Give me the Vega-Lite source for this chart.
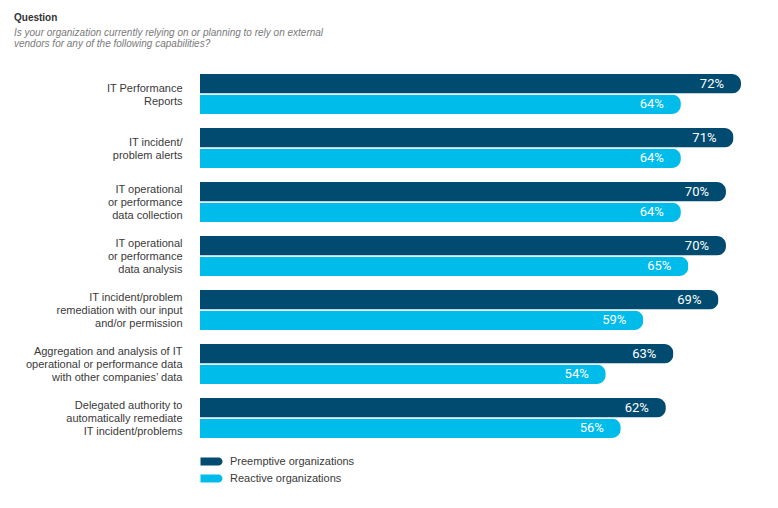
{
  "$schema": "https://vega.github.io/schema/vega-lite/v6.json",
  "autosize": "none",
  "width": 541,
  "height": 378,
  "padding": {"left": 200, "top": 67, "right": 37, "bottom": 63},
  "background": "white",
  "title": {
    "text": "Question",
    "subtitle": ["Is your organization currently relying on or planning to rely on external", "vendors for any of the following capabilities?"],
    "anchor": "start",
    "frame": "group",
    "dx": -186,
    "offset": 18,
    "font": "Liberation Sans",
    "fontSize": 10,
    "fontWeight": "bold",
    "color": "#333333",
    "subtitleFont": "Liberation Sans",
    "subtitleFontSize": 10,
    "subtitleFontStyle": "italic",
    "subtitleColor": "#7a7a7a",
    "subtitleLineHeight": 11,
    "subtitlePadding": 5
  },
  "data": {
    "values": [
      {"capability": "IT Performance|Reports", "series": "Preemptive organizations", "value": 0.72},
      {"capability": "IT Performance|Reports", "series": "Reactive organizations", "value": 0.64},
      {"capability": "IT incident/|problem alerts", "series": "Preemptive organizations", "value": 0.71},
      {"capability": "IT incident/|problem alerts", "series": "Reactive organizations", "value": 0.64},
      {"capability": "IT operational|or performance|data collection", "series": "Preemptive organizations", "value": 0.70},
      {"capability": "IT operational|or performance|data collection", "series": "Reactive organizations", "value": 0.64},
      {"capability": "IT operational|or performance|data analysis", "series": "Preemptive organizations", "value": 0.70},
      {"capability": "IT operational|or performance|data analysis", "series": "Reactive organizations", "value": 0.65},
      {"capability": "IT incident/problem|remediation with our input|and/or permission", "series": "Preemptive organizations", "value": 0.69},
      {"capability": "IT incident/problem|remediation with our input|and/or permission", "series": "Reactive organizations", "value": 0.59},
      {"capability": "Aggregation and analysis of IT|operational or performance data|with other companies’ data", "series": "Preemptive organizations", "value": 0.63},
      {"capability": "Aggregation and analysis of IT|operational or performance data|with other companies’ data", "series": "Reactive organizations", "value": 0.54},
      {"capability": "Delegated authority to|automatically remediate|IT incident/problems", "series": "Preemptive organizations", "value": 0.62},
      {"capability": "Delegated authority to|automatically remediate|IT incident/problems", "series": "Reactive organizations", "value": 0.56}
    ]
  },
  "encoding": {
    "y": {
      "field": "capability",
      "type": "nominal",
      "sort": null,
      "scale": {"paddingInner": 0.26, "paddingOuter": 0.13},
      "axis": {
        "title": null,
        "domain": false,
        "ticks": false,
        "labelPadding": 18,
        "labelExpr": "split(datum.label, '|')",
        "labelFont": "Liberation Sans",
        "labelFontSize": 11,
        "labelLineHeight": 13,
        "labelColor": "#3a3a3a",
        "labelAlign": "right",
        "labelBaseline": "middle",
        "labelLimit": 300,
        "labelOffset": {"condition": {"test": "length(split(datum.value, '|')) == 3", "value": -12}, "value": -5}
      }
    },
    "yOffset": {
      "field": "series",
      "type": "nominal",
      "sort": ["Preemptive organizations", "Reactive organizations"],
      "scale": {"paddingInner": 0.06}
    },
    "x": {
      "field": "value",
      "type": "quantitative",
      "scale": {"domain": [0, 0.72], "nice": false},
      "axis": null
    }
  },
  "layer": [
    {
      "mark": {"type": "bar", "cornerRadiusEnd": 9},
      "encoding": {
        "color": {
          "field": "series",
          "type": "nominal",
          "scale": {"domain": ["Preemptive organizations", "Reactive organizations"], "range": ["#004b6f", "#00bceb"]},
          "legend": {
            "title": null,
            "orient": "none",
            "legendX": 0,
            "legendY": 389,
            "direction": "vertical",
            "padding": 0,
            "symbolType": "M-1,-0.8 L2.6,-0.8 A0.8,0.8 0 0 1 2.6,0.8 L-1,0.8 Z",
            "symbolSize": 100,
            "symbolStrokeWidth": 0,
            "labelOffset": 19,
            "labelFont": "Liberation Sans",
            "labelFontSize": 11,
            "labelColor": "#3a3a3a",
            "rowPadding": 5
          }
        }
      }
    },
    {
      "mark": {"type": "text", "align": "right", "baseline": "middle", "dx": -17, "color": "white", "font": "Roboto", "fontSize": 13, "fontWeight": "normal"},
      "encoding": {
        "text": {"field": "value", "type": "quantitative", "format": ".0%"}
      }
    }
  ],
  "config": {"view": {"stroke": null}}
}
